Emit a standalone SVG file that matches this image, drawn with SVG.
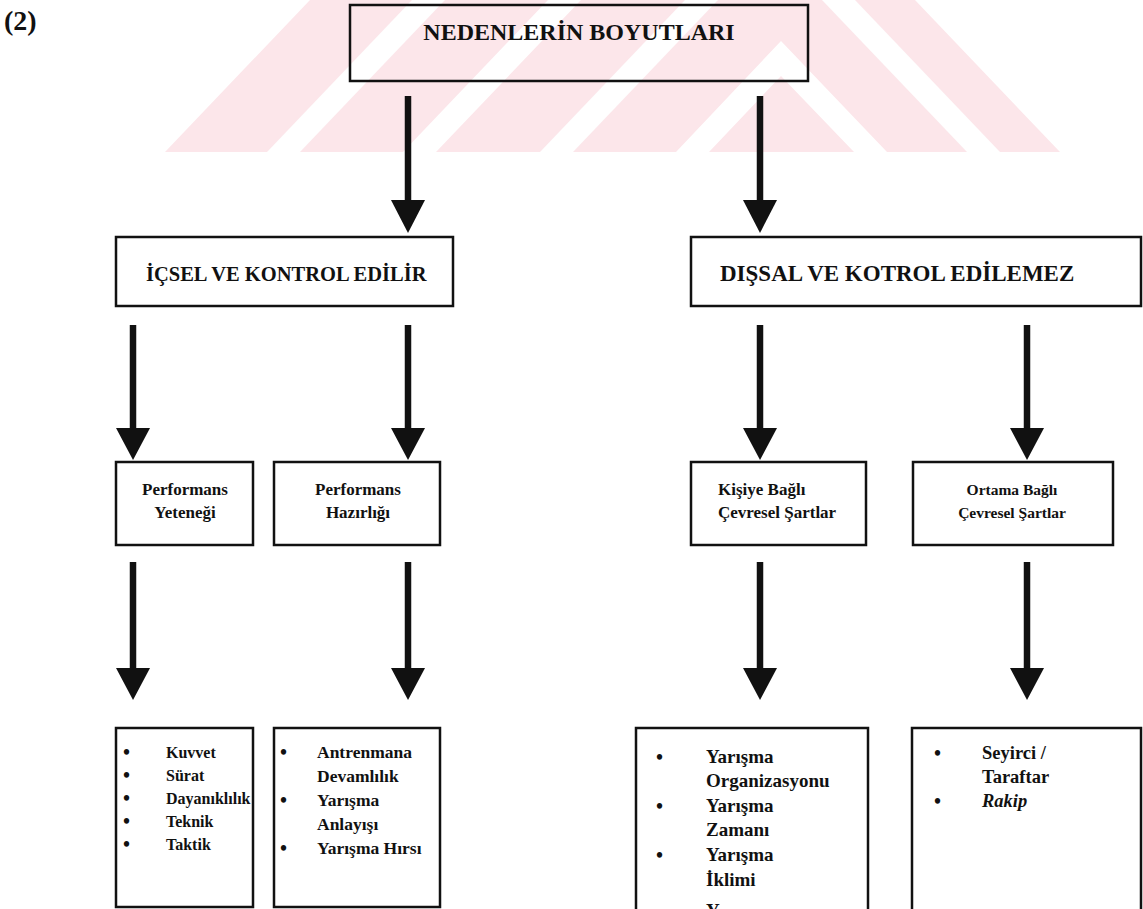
<svg xmlns="http://www.w3.org/2000/svg" width="1143" height="909" viewBox="0 0 1143 909">
<style>
.box{fill:none;stroke:#111;stroke-width:2.5}
.t{font-family:"Liberation Serif","Times New Roman",serif;font-weight:bold;fill:#111}
.m{font-size:17px}
.c{text-anchor:middle}
.b{font-size:20px}
.shaft{stroke:#111;stroke-width:6.5;fill:none}
.head{fill:#111}
.wm{fill:#fce6ea}
.gap{fill:#fff}
</style>
<rect width="1143" height="909" fill="#fff"/>
<g id="watermark">
<polygon class="wm" points="165,152 310,0 915,0 1060,152"/>
<polygon class="gap" points="267,152 300,152 445,0 412,0"/>
<polygon class="gap" points="403,152 436,152 581,0 548,0"/>
<polygon class="gap" points="540,152 573,152 718,0 685,0"/>
<polygon class="gap" points="676,152 781,41 887,152 854,152 781,76 709,152"/>
<polygon class="gap" points="822,0 855,0 1000,152 967,152"/>
</g>
<text class="t" x="4" y="30" font-size="28">(2)</text>
<g id="connectors">
<line class="shaft" x1="408" y1="96" x2="408" y2="204"/><polygon class="head" points="391,200 425,200 408,233"/>
<line class="shaft" x1="760" y1="96" x2="760" y2="204"/><polygon class="head" points="743,200 777,200 760,233"/>
<line class="shaft" x1="133" y1="325" x2="133" y2="432"/><polygon class="head" points="116,428 150,428 133,460"/>
<line class="shaft" x1="408" y1="325" x2="408" y2="432"/><polygon class="head" points="391,428 425,428 408,460"/>
<line class="shaft" x1="760" y1="325" x2="760" y2="432"/><polygon class="head" points="743,428 777,428 760,460"/>
<line class="shaft" x1="1027" y1="325" x2="1027" y2="432"/><polygon class="head" points="1010,428 1044,428 1027,460"/>
<line class="shaft" x1="133" y1="562" x2="133" y2="672"/><polygon class="head" points="116,668 150,668 133,700"/>
<line class="shaft" x1="408" y1="562" x2="408" y2="672"/><polygon class="head" points="391,668 425,668 408,700"/>
<line class="shaft" x1="760" y1="562" x2="760" y2="672"/><polygon class="head" points="743,668 777,668 760,700"/>
<line class="shaft" x1="1027" y1="562" x2="1027" y2="672"/><polygon class="head" points="1010,668 1044,668 1027,700"/>
</g>
<g id="root">
<rect class="box" x="350" y="5" width="458" height="76"/>
<text class="t c" font-size="24" x="579" y="40">NEDENLERİN BOYUTLARI</text>
</g>
<g id="internal">
<rect class="box" x="116" y="237" width="337" height="69"/>
<text class="t" font-size="20.5" x="146" y="281">İÇSEL VE KONTROL EDİLİR</text>
</g>
<g id="external">
<rect class="box" x="691" y="237" width="450" height="69"/>
<text class="t" font-size="23" x="720" y="281">DIŞSAL VE KOTROL EDİLEMEZ</text>
</g>
<g id="ability">
<rect class="box" x="116" y="462" width="137" height="83"/>
<text class="t m c" x="185" y="495">Performans</text>
<text class="t m c" x="185" y="518">Yeteneği</text>
</g>
<g id="readiness">
<rect class="box" x="274" y="462" width="166" height="83"/>
<text class="t m c" x="358" y="495">Performans</text>
<text class="t m c" x="358" y="518">Hazırlığı</text>
</g>
<g id="personal">
<rect class="box" x="691" y="462" width="175" height="83"/>
<text class="t m" x="718" y="495">Kişiye Bağlı</text>
<text class="t m" x="718" y="518">Çevresel Şartlar</text>
</g>
<g id="environment">
<rect class="box" x="913" y="462" width="200" height="83"/>
<text class="t c" font-size="15.5" x="1012" y="495">Ortama Bağlı</text>
<text class="t c" font-size="15.5" x="1012" y="518">Çevresel Şartlar</text>
</g>
<g id="ability-list">
<rect class="box" x="116" y="728" width="137" height="179"/>
<g class="t" font-size="16">
<text class="b" x="123" y="759">•</text><text x="166" y="758">Kuvvet</text>
<text class="b" x="123" y="782">•</text><text x="166" y="781">Sürat</text>
<text class="b" x="123" y="805">•</text><text x="166" y="804">Dayanıklılık</text>
<text class="b" x="123" y="828">•</text><text x="166" y="827">Teknik</text>
<text class="b" x="123" y="851">•</text><text x="166" y="850">Taktik</text>
</g>
</g>
<g id="readiness-list">
<rect class="box" x="274" y="728" width="166" height="179"/>
<g class="t" font-size="17.5">
<text class="b" x="280" y="759">•</text><text x="317" y="758">Antrenmana</text>
<text x="317" y="782">Devamlılık</text>
<text class="b" x="280" y="807">•</text><text x="317" y="806">Yarışma</text>
<text x="317" y="830">Anlayışı</text>
<text class="b" x="280" y="855">•</text><text x="317" y="854">Yarışma Hırsı</text>
</g>
</g>
<g id="personal-list">
<rect class="box" x="636" y="728" width="232" height="185"/>
<g class="t" font-size="19">
<text class="b" x="656" y="764">•</text><text x="706" y="763">Yarışma</text>
<text x="706" y="787">Organizasyonu</text>
<text class="b" x="656" y="813">•</text><text x="706" y="812">Yarışma</text>
<text x="706" y="836">Zamanı</text>
<text class="b" x="656" y="862">•</text><text x="706" y="861">Yarışma</text>
<text x="706" y="886">İklimi</text>
<text x="706" y="917">Y</text>
</g>
</g>
<g id="environment-list">
<rect class="box" x="912" y="728" width="229" height="185"/>
<g class="t" font-size="18.5">
<text class="b" x="934" y="760">•</text><text x="982" y="759">Seyirci /</text>
<text x="982" y="783">Taraftar</text>
<text class="b" x="934" y="808">•</text><text x="982" y="807" font-style="italic">Rakip</text>
</g>
</g>
</svg>
